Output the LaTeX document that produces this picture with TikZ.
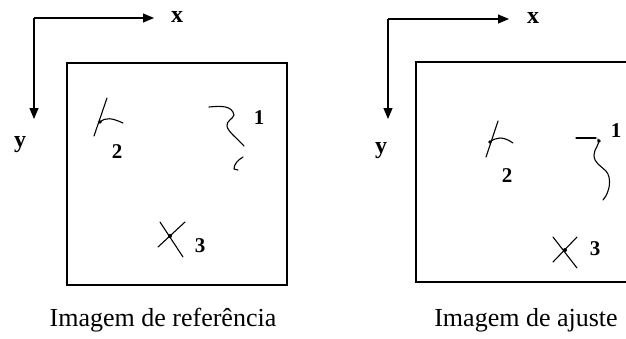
\documentclass[tikz,border=0pt]{standalone}
\usepackage{fontspec}
\setmainfont{Liberation Serif}
\usetikzlibrary{arrows.meta}
\begin{document}
\begin{tikzpicture}[x=1pt,y=-1pt,
  axis/.style={line width=1.1pt,-{Triangle[length=11pt,width=9pt]}},
  frame/.style={line width=1.1pt},
  feat/.style={line width=1.1pt,line cap=round,line join=round},
  lbl/.style={font=\fontsize{21}{24}\selectfont\bfseries,inner sep=0pt},
  axlbl/.style={font=\fontsize{24}{26}\selectfont\bfseries,inner sep=0pt},
  captext/.style={font=\fontsize{26}{30}\selectfont,inner sep=0pt}]
\useasboundingbox (0,0) rectangle (626,338);
% ---------- left panel ----------
\coordinate (Lo) at (34,18);
\coordinate (Lx) at (154,18);
\coordinate (Ly) at (34,119);
\draw[axis] (Lo) -- (Lx);
\draw[axis] (Lo) -- (Ly);
\node[axlbl] (LxL) at (177,17) {x};
\node[axlbl] (LyL) at (20,145) {y};
\draw[frame] (67,63) rectangle (287,285);
% feature 2
\draw[feat] (107,98) -- (94,136);
\draw[feat] (100,122) .. controls (106,117) and (112,118) .. (123,123);
\fill (100,122) circle (1.8pt);
\node[lbl] (L2) at (117,152) {2};
% feature 1
\draw[feat] (209,107) .. controls (220,106) and (232,105) .. (234,115)
  .. controls (233,119) and (226,121) .. (227,126)
  .. controls (228,132) and (237,138) .. (244,146);
\draw[feat] (243,157) .. controls (238,160) and (234,164) .. (234,169) -- (238,170);
\node[lbl] (L1) at (259,118) {1};
% feature 3
\draw[feat] (160,222) -- (183,257);
\draw[feat] (185,222) -- (158,247);
\fill (170,236) circle (2pt);
\node[lbl] (L3) at (200,246) {3};
\node[captext] (Lcap) at (163,320) {Imagem de referência};
% ---------- right panel ----------
\coordinate (Ro) at (388,19);
\coordinate (Rx) at (509,19);
\coordinate (Ry) at (388,119);
\draw[axis] (Ro) -- (Rx);
\draw[axis] (Ro) -- (Ry);
\node[axlbl] (RxL) at (533,18) {x};
\node[axlbl] (RyL) at (381,151) {y};
\draw[frame] (626,62) -- (416,62) -- (416,282) -- (626,282);
% feature 2
\draw[feat] (498,121) -- (486,157);
\draw[feat] (490,142) .. controls (496,137) and (503,136) .. (513,143);
\fill (490,142) circle (1.8pt);
\node[lbl] (R2) at (507,176) {2};
% feature 1
\draw[feat] (576,138) -- (596,138);
\fill (599,141) circle (1.8pt);
\draw[feat] (598,139) .. controls (600,146) and (594,148) .. (594,155)
  .. controls (594,163) and (601,166) .. (606,171)
  .. controls (612,178) and (610,192) .. (603,200);
\node[lbl] (R1) at (616,131) {1};
% feature 3
\draw[feat] (553,237) -- (577,268);
\draw[feat] (577,237) -- (553,262);
\fill (565,250) circle (2pt);
\node[lbl] (R3) at (595,249) {3};
\node[captext] (Rcap) at (526,320) {Imagem de ajuste};
\end{tikzpicture}
\end{document}
